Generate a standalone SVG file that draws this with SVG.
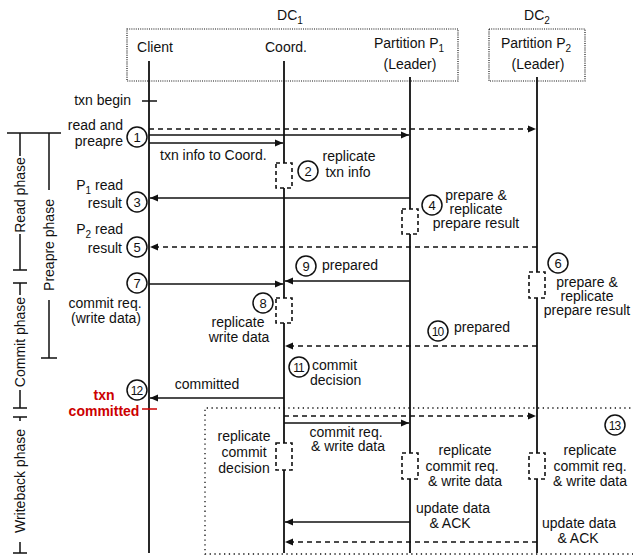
<svg xmlns="http://www.w3.org/2000/svg" width="633" height="559" viewBox="0 0 633 559">
<defs>
<style>
text{font-family:"Liberation Sans",Arial,sans-serif;font-size:14px;fill:#111}
.m{text-anchor:middle}
.e{text-anchor:end}
.n{font-size:13px;text-anchor:middle}
.n2{font-size:12px;text-anchor:middle;letter-spacing:-1px}
.red{fill:#cc0000;font-weight:bold;text-anchor:middle}
.ll{stroke:#111;stroke-width:1.8;fill:none}
.a{stroke:#111;stroke-width:1.6;fill:none;marker-end:url(#ah)}
.d{stroke-dasharray:5 4}
.box{fill:none;stroke:#111;stroke-width:1.2;stroke-dasharray:1 1.2}
.wb{fill:none;stroke:#111;stroke-width:1.3;stroke-dasharray:1.3 3.5}
.rep{fill:#fff;stroke:#111;stroke-width:1.6;stroke-dasharray:4 3}
.c{fill:#fff;stroke:#111;stroke-width:1.5}
.br{stroke:#111;stroke-width:1.5;fill:none}
</style>
<marker id="ah" markerUnits="userSpaceOnUse" markerWidth="9" markerHeight="8" refX="8" refY="4" orient="auto">
<path d="M0,0.5 L8,4 L0,7.5 z" fill="#111"/>
</marker>
</defs>

<g id="dc-labels">
<text class="m" x="290" y="20">DC<tspan font-size="10" dy="4">1</tspan></text>
<text class="m" x="537" y="20">DC<tspan font-size="10" dy="4">2</tspan></text>
<rect class="box" x="127" y="29" width="331" height="52"/>
<rect class="box" x="489" y="29" width="96" height="52"/>
</g>

<g id="writeback-box">
<path class="wb" d="M640,408 H205 V554 H640"/>
</g>

<g id="client">
<text class="m" x="155" y="52">Client</text>
<path class="ll" d="M149,61 V553"/>
</g>
<g id="coord">
<text class="m" x="286" y="52">Coord.</text>
<path class="ll" d="M284,61 V163 M284,188 V298 M284,323 V443 M284,470 V553"/>
</g>
<g id="p1">
<text class="m" x="409" y="48">Partition P<tspan font-size="10" dy="4">1</tspan></text>
<text class="m" x="410" y="69">(Leader)</text>
<path class="ll" d="M410,77 V209 M410,234 V453 M410,479 V553"/>
</g>
<g id="p2">
<text class="m" x="536" y="48">Partition P<tspan font-size="10" dy="4">2</tspan></text>
<text class="m" x="538" y="69">(Leader)</text>
<path class="ll" d="M537,77 V272 M537,298 V453 M537,479 V553"/>
</g>

<g id="connectors">
<path class="a d" d="M149,129 H536"/>
<path class="a" d="M149,135 H409"/>
<path class="a" d="M149,143 H283"/>
<path class="a" d="M410,198 H150"/>
<path class="a d" d="M537,247 H150"/>
<path class="a" d="M410,281 H285"/>
<path class="a" d="M149,284 H283"/>
<path class="a d" d="M537,346 H285"/>
<path class="a" d="M284,398 H150"/>
<path class="a d" d="M284,416 H536"/>
<path class="a" d="M284,423 H409"/>
<path class="a" d="M410,522 H285"/>
<path class="a d" d="M537,542 H285"/>
</g>

<g id="replication-boxes">
<rect class="rep" x="276" y="163" width="16" height="25"/>
<rect class="rep" x="402" y="209" width="16" height="25"/>
<rect class="rep" x="529" y="272" width="16" height="26"/>
<rect class="rep" x="276" y="298" width="16" height="25"/>
<rect class="rep" x="276" y="443" width="16" height="27"/>
<rect class="rep" x="402" y="453" width="16" height="26"/>
<rect class="rep" x="529" y="453" width="16" height="26"/>
</g>

<g id="phases">
<path class="br" d="M7,133 H61"/>
<path class="br" d="M20,133 V156 M20,234 V270 M13,270 H27"/>
<text transform="rotate(-90 25 195)" class="m" x="25" y="195">Read phase</text>
<path class="br" d="M49,133 V190 M49,300 V358 M41,358 H57"/>
<text transform="rotate(-90 54 245)" class="m" x="54" y="245">Preapre phase</text>
<path class="br" d="M13,283 H27 M20,283 V295 M20,390 V408 M13,408 H27"/>
<text transform="rotate(-90 25 342)" class="m" x="25" y="342">Commit phase</text>
<path class="br" d="M13,417 H27 M20,417 V421 M20,542 V553 M13,553 H27"/>
<text transform="rotate(-90 25 481)" class="m" x="25" y="481">Writeback phase</text>
</g>

<g id="txn-begin">
<text class="e" x="131" y="105">txn begin</text>
<path class="br" d="M142,101 H157"/>
</g>

<g id="step1">
<circle class="c" cx="137" cy="137" r="10"/><text class="n" x="137" y="142">1</text>
<text class="e" x="123" y="130">read and</text>
<text class="e" x="123" y="146">preapre</text>
<text x="160" y="160">txn info to Coord.</text>
</g>
<g id="step2">
<circle class="c" cx="308" cy="171" r="10"/><text class="n" x="308" y="176">2</text>
<text class="m" x="349" y="161">replicate</text>
<text class="m" x="348" y="177">txn info</text>
</g>
<g id="step3">
<circle class="c" cx="137" cy="202" r="10"/><text class="n" x="137" y="207">3</text>
<text class="e" x="123" y="190">P<tspan font-size="10" dy="4">1</tspan><tspan dy="-4"> read</tspan></text>
<text class="e" x="122" y="208">result</text>
</g>
<g id="step4">
<circle class="c" cx="432" cy="205" r="10"/><text class="n" x="432" y="210">4</text>
<text class="m" x="476" y="200">prepare &amp;</text>
<text class="m" x="476" y="214">replicate</text>
<text class="m" x="476" y="228">prepare result</text>
</g>
<g id="step5">
<circle class="c" cx="137" cy="247" r="10"/><text class="n" x="137" y="252">5</text>
<text class="e" x="123" y="234">P<tspan font-size="10" dy="4">2</tspan><tspan dy="-4"> read</tspan></text>
<text class="e" x="122" y="253">result</text>
</g>
<g id="step6">
<circle class="c" cx="558" cy="263" r="10"/><text class="n" x="558" y="268">6</text>
<text class="m" x="587" y="287">prepare &amp;</text>
<text class="m" x="587" y="301">replicate</text>
<text class="m" x="587" y="315">prepare result</text>
</g>
<g id="step7">
<circle class="c" cx="137" cy="283" r="10"/><text class="n" x="137" y="288">7</text>
<text class="m" x="105" y="308">commit req.</text>
<text class="m" x="106" y="323">(write data)</text>
</g>
<g id="step8">
<circle class="c" cx="263" cy="303" r="10"/><text class="n" x="263" y="308">8</text>
<text class="m" x="238" y="327">replicate</text>
<text class="m" x="239" y="342">write data</text>
</g>
<g id="step9">
<circle class="c" cx="306" cy="266" r="10"/><text class="n" x="306" y="271">9</text>
<text x="322" y="270">prepared</text>
</g>
<g id="step10">
<circle class="c" cx="438" cy="331" r="10"/><text class="n2" x="437.5" y="335.5">10</text>
<text x="454" y="332">prepared</text>
</g>
<g id="step11">
<circle class="c" cx="299" cy="367" r="10"/><text class="n2" x="298.5" y="371.5">11</text>
<text x="312" y="370">commit</text>
<text x="310" y="385">decision</text>
</g>
<g id="step12">
<circle class="c" cx="137" cy="390" r="10"/><text class="n2" x="136.5" y="394.5">12</text>
<text class="m" x="207" y="389">committed</text>
<text class="red" x="104" y="400">txn</text>
<text class="red" x="104" y="416">committed</text>
<path d="M142,409 H157" stroke="#cc0000" stroke-width="1.5"/>
</g>
<g id="step13">
<circle class="c" cx="615" cy="425" r="10"/><text class="n2" x="614.5" y="429.5">13</text>
<text class="m" x="244" y="441">replicate</text>
<text class="m" x="244" y="457">commit</text>
<text class="m" x="244" y="473">decision</text>
<text class="m" x="346" y="437">commit req.</text>
<text class="m" x="348" y="451">&amp; write data</text>
<text class="m" x="465" y="455">replicate</text>
<text class="m" x="462" y="471">commit req.</text>
<text class="m" x="465" y="486">&amp; write data</text>
<text class="m" x="590" y="455">replicate</text>
<text class="m" x="590" y="471">commit req.</text>
<text class="m" x="590" y="486">&amp; write data</text>
<text class="m" x="453" y="513">update data</text>
<text class="m" x="450" y="528">&amp; ACK</text>
<text class="m" x="579" y="528">update data</text>
<text class="m" x="578" y="543">&amp; ACK</text>
</g>
</svg>
